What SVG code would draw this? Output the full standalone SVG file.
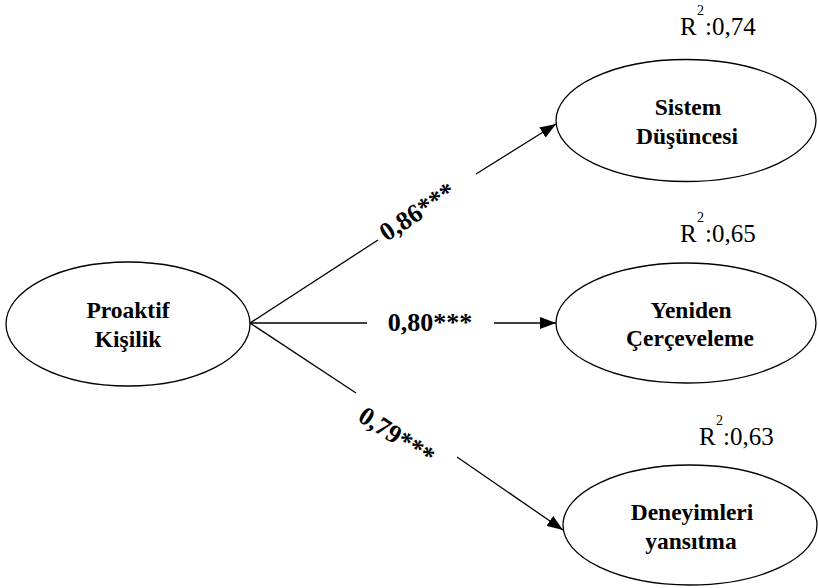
<svg xmlns="http://www.w3.org/2000/svg" width="818" height="588" viewBox="0 0 818 588">
<style>
  .node ellipse { fill: #fff; stroke: #000; stroke-width: 1.3; }
  text { font-family: 'Liberation Serif', 'Times New Roman', Times, serif; fill: #000; }
  .nl { font-weight: bold; font-size: 23.5px; text-anchor: middle; }
  .el { font-weight: bold; font-size: 26px; text-anchor: middle; }
  .r2 { font-size: 25px; }
  .sup { font-size: 14px; }
  .conn line { stroke: #000; stroke-width: 1.3; }
</style>
<defs>
  <marker id="arr" markerUnits="userSpaceOnUse" markerWidth="16" markerHeight="12" refX="16" refY="6" orient="auto">
    <path d="M0,0 L16,6 L0,12 z" fill="#000"/>
  </marker>
</defs>
<rect width="818" height="588" fill="#fff"/>

<g id="connectors" class="conn">
  <line x1="250" y1="323" x2="378" y2="240"/>
  <line x1="476" y1="174" x2="556" y2="124" marker-end="url(#arr)"/>
  <line x1="250" y1="323" x2="367" y2="323"/>
  <line x1="494" y1="323" x2="556" y2="323" marker-end="url(#arr)"/>
  <line x1="250" y1="323" x2="356" y2="393"/>
  <line x1="457" y1="457" x2="563" y2="530" marker-end="url(#arr)"/>
</g>

<g id="edge-labels">
  <text class="el" transform="translate(422,219) rotate(-33)">0,86***</text>
  <text class="el" x="430" y="331">0,80***</text>
  <text class="el" transform="translate(392,443) rotate(33)">0,79***</text>
</g>

<g id="proaktif" class="node">
  <ellipse cx="128" cy="324" rx="122" ry="62"/>
  <text class="nl" x="128" y="318">Proaktif</text>
  <text class="nl" x="128" y="347">Kişilik</text>
</g>

<g id="sistem" class="node">
  <ellipse cx="686" cy="120.5" rx="130" ry="61"/>
  <text class="nl" x="688" y="115">Sistem</text>
  <text class="nl" x="687" y="144">Düşüncesi</text>
  <text class="r2" x="680" y="35">R</text>
  <text class="sup" x="697" y="15">2</text>
  <text class="r2" x="705" y="35">:0,74</text>
</g>

<g id="yeniden" class="node">
  <ellipse cx="686" cy="323" rx="130" ry="60"/>
  <text class="nl" x="691" y="318">Yeniden</text>
  <text class="nl" x="690" y="346">Çerçeveleme</text>
  <text class="r2" x="680" y="242">R</text>
  <text class="sup" x="697" y="222">2</text>
  <text class="r2" x="705" y="242">:0,65</text>
</g>

<g id="deneyimleri" class="node">
  <ellipse cx="690" cy="525" rx="127" ry="60"/>
  <text class="nl" x="692" y="520">Deneyimleri</text>
  <text class="nl" x="691" y="549">yansıtma</text>
  <text class="r2" x="699" y="445">R</text>
  <text class="sup" x="716" y="425">2</text>
  <text class="r2" x="723" y="445">:0,63</text>
</g>
</svg>
